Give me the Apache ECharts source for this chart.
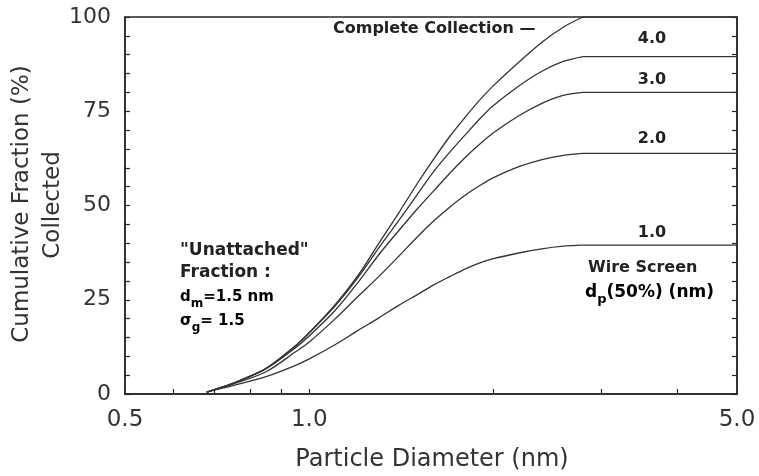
<!DOCTYPE html>
<html>
<head>
<meta charset="utf-8">
<script src="https://cdn.jsdelivr.net/npm/echarts@6/dist/echarts.min.js"></script>
<style>
  html, body { margin: 0; padding: 0; background: #fff; }
  #chart { width: 759px; height: 476px; }
</style>
</head>
<body>
<div id="chart"></div>
<script>
// Particle diameter (nm) sampled along the curves
const diameters = [0.68, 0.75, 0.85, 0.95, 1.0, 1.1, 1.2, 1.3, 1.4, 1.5, 1.6, 1.7, 1.8, 1.9, 2.0, 2.2, 2.4, 2.6, 2.8, 5.0];

// Cumulative fraction collected (%)
const completeCollection = [0.5, 2.8, 6.8, 12.8, 16.3, 23.5, 31.3, 40.0, 48.0, 55.7, 62.5, 68.5, 73.5, 78.0, 81.8, 88.0, 93.3, 97.3, 100, 100];
const screen40 = [0.5, 2.8, 6.8, 12.8, 16.2, 23.2, 30.8, 38.8, 46.0, 52.8, 59.2, 64.3, 68.8, 73.0, 76.5, 81.7, 85.6, 88.2, 89.5, 89.5];
const screen30 = [0.5, 2.8, 6.7, 12.3, 15.4, 22.0, 29.5, 37.0, 43.3, 49.0, 54.0, 58.7, 62.8, 66.3, 69.3, 73.8, 77.1, 79.2, 80.0, 80.0];
const screen20 = [0.5, 2.6, 5.9, 11.2, 13.8, 19.8, 25.8, 31.2, 36.5, 41.6, 46.0, 49.7, 52.8, 55.3, 57.4, 60.3, 62.2, 63.3, 63.8, 63.8];
const screen10 = [0.5, 2.2, 4.6, 7.6, 9.3, 13.0, 16.8, 20.2, 23.5, 26.3, 29.0, 31.2, 33.2, 34.8, 35.9, 37.4, 38.5, 39.2, 39.5, 39.5];

// Wire screen d_p(50%) labels
const screenLabels = ['4.0', '3.0', '2.0', '1.0'];

// Axis ticks
const xLabelValues = [0.5, 1.0, 5.0];
const xTickValues = [0.6, 0.7, 0.8, 0.9, 1.0, 2, 3, 4];
const yMin = 0, yMax = 100, yStep = 25;

const ink = '#262626';
const font = 'DejaVu Sans';

function pairs(ys) {
  return diameters.map((d, i) => [d, ys[i]]);
}

// Each curve: a smooth rising part, then the flat plateau to the axis end
function curve(name, ys) {
  const pts = pairs(ys);
  const style = { color: '#333', width: 1.3 };
  return [
    {
      name: name, type: 'line', data: pts.slice(0, pts.length - 1),
      showSymbol: false, smooth: 0.3, lineStyle: style, silent: true, z: 3
    },
    {
      name: name, type: 'line', data: pts.slice(pts.length - 2),
      showSymbol: false, lineStyle: style, silent: true, z: 3
    }
  ];
}

const yAxisBase = {
  type: 'value',
  min: yMin,
  max: yMax,
  interval: yStep,
  splitLine: { show: false },
  axisLine: { show: true, lineStyle: { color: ink, width: 1.5 } },
  axisTick: { show: true, inside: true, length: 5, lineStyle: { color: ink, width: 1.2 } },
  minorTick: { show: true, splitNumber: 5, length: 5, lineStyle: { color: ink, width: 1.2 } },
  minorSplitLine: { show: false }
};

const bold = { fontFamily: font, fontWeight: 'bold', fill: '#222' };

function subText(x, y, parts, size, subSize) {
  return {
    type: 'text', x: x, y: y,
    style: {
      text: '{b|' + parts[0] + '}{s|' + parts[1] + '}{b|' + parts[2] + '}',
      align: 'left', verticalAlign: 'middle',
      rich: {
        b: { fontFamily: font, fontWeight: 'bold', fontSize: size, color: '#222' },
        s: { fontFamily: font, fontWeight: 'bold', fontSize: subSize, color: '#222', padding: [13, 0, 0, 0] }
      }
    }
  };
}

const chart = echarts.init(document.getElementById('chart'), null, { renderer: 'canvas' });

chart.setOption({
  animation: false,
  backgroundColor: '#fff',
  grid: {
    left: 125, right: 22, top: 17, bottom: 82,
    show: true, borderColor: ink, borderWidth: 1.5, backgroundColor: 'transparent'
  },
  xAxis: {
    type: 'log',
    logBase: 10,
    min: 0.5,
    max: 5.0,
    splitLine: { show: false },
    minorTick: { show: false },
    axisLine: { show: true, lineStyle: { color: ink, width: 1.5 } },
    axisTick: {
      show: true, inside: true, length: 5,
      customValues: xTickValues,
      lineStyle: { color: ink, width: 1.2 }
    },
    axisLabel: {
      customValues: xLabelValues,
      formatter: v => Number(v).toFixed(1),
      margin: 15,
      color: '#333',
      fontFamily: font,
      fontSize: 23
    }
  },
  yAxis: [
    Object.assign({}, yAxisBase, {
      position: 'left',
      axisLabel: { margin: 14, color: '#333', fontFamily: font, fontSize: 22 }
    }),
    Object.assign({}, yAxisBase, {
      position: 'right',
      axisLabel: { show: false }
    })
  ],
  series: [].concat(
    curve('Complete Collection', completeCollection),
    curve(screenLabels[0], screen40),
    curve(screenLabels[1], screen30),
    curve(screenLabels[2], screen20),
    curve(screenLabels[3], screen10)
  ),
  graphic: [
    // axis titles
    {
      type: 'text', x: 22, y: 204, rotation: Math.PI / 2,
      style: { text: 'Cumulative Fraction (%)', fontFamily: font, fontSize: 23, fill: '#333', align: 'center', verticalAlign: 'middle' }
    },
    {
      type: 'text', x: 53, y: 205, rotation: Math.PI / 2,
      style: { text: 'Collected', fontFamily: font, fontSize: 23, fill: '#333', align: 'center', verticalAlign: 'middle' }
    },
    {
      type: 'text', x: 432, y: 460,
      style: { text: 'Particle Diameter (nm)', fontFamily: font, fontSize: 24, fill: '#333', align: 'center', verticalAlign: 'middle' }
    },
    // curve annotations
    {
      type: 'text', x: 333, y: 29,
      style: Object.assign({ text: 'Complete Collection —', fontSize: 16, align: 'left', verticalAlign: 'middle' }, bold)
    },
    { type: 'text', x: 652, y: 39, style: Object.assign({ text: screenLabels[0], fontSize: 16, align: 'center', verticalAlign: 'middle' }, bold) },
    { type: 'text', x: 652, y: 80, style: Object.assign({ text: screenLabels[1], fontSize: 16, align: 'center', verticalAlign: 'middle' }, bold) },
    { type: 'text', x: 652, y: 139, style: Object.assign({ text: screenLabels[2], fontSize: 16, align: 'center', verticalAlign: 'middle' }, bold) },
    { type: 'text', x: 652, y: 233, style: Object.assign({ text: screenLabels[3], fontSize: 16, align: 'center', verticalAlign: 'middle' }, bold) },
    {
      type: 'text', x: 588, y: 268,
      style: Object.assign({ text: 'Wire Screen', fontSize: 16, align: 'left', verticalAlign: 'middle' }, bold)
    },
    subText(585, 293, ['d', 'p', '(50%) (nm)'], 17, 13),
    // distribution parameters
    {
      type: 'text', x: 180, y: 251,
      style: Object.assign({ text: '"Unattached"', fontSize: 17, align: 'left', verticalAlign: 'middle' }, bold)
    },
    {
      type: 'text', x: 180, y: 273,
      style: Object.assign({ text: 'Fraction :', fontSize: 17, align: 'left', verticalAlign: 'middle' }, bold)
    },
    subText(180, 297, ['d', 'm', '=1.5 nm'], 15, 12),
    subText(180, 321, ['σ', 'g', '= 1.5'], 15, 12)
  ]
});
</script>
</body>
</html>
